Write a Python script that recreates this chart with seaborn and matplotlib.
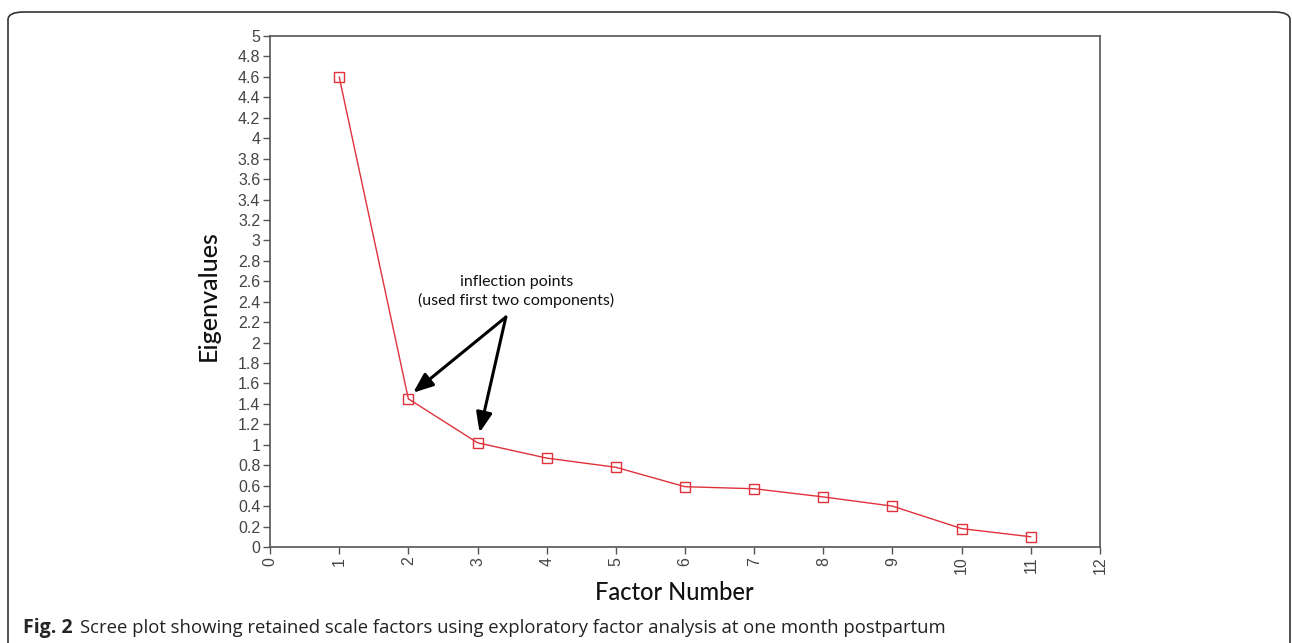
import matplotlib
matplotlib.use("Agg")
import matplotlib.pyplot as plt
import seaborn as sns
import pandas as pd
from matplotlib.patches import FancyBboxPatch

factor_number = [1, 2, 3, 4, 5, 6, 7, 8, 9, 10, 11]
eigenvalues = [4.60, 1.45, 1.02, 0.87, 0.78, 0.59, 0.57, 0.49, 0.40, 0.18, 0.10]
x_ticks = list(range(0, 13))
y_ticks = [round(0.2 * i, 1) for i in range(26)]

sns.set_theme(style="white")
plt.rcParams['font.family'] = ['Liberation Sans', 'DejaVu Sans']

df = pd.DataFrame({"Factor Number": factor_number, "Eigenvalues": eigenvalues})

fig = plt.figure(figsize=(12.92, 6.43), dpi=100)
ax = fig.add_axes([270/1292, 1 - 547/643, (1100-270)/1292, (547-36)/643])

red = "#e0323c"
sns.lineplot(data=df, x="Factor Number", y="Eigenvalues", ax=ax, color=red,
             linewidth=1.0, marker="s", markersize=7, markerfacecolor="none",
             markeredgecolor=red, markeredgewidth=1.0)

ax.set_xlim(0, 12)
ax.set_ylim(0, 5)
ax.set_xticks(x_ticks)
ax.set_xticklabels([str(t) for t in x_ticks], rotation=90)
ax.set_yticks(y_ticks)
ax.set_yticklabels([("%g" % t) for t in y_ticks])
ax.tick_params(axis="both", which="both", direction="out", length=5, width=1,
               color="#555555", labelsize=11.5, labelcolor="#444444", pad=2,
               bottom=True, left=True, top=False, right=False)
for s in ax.spines.values():
    s.set_visible(True)
    s.set_color("#555555")
    s.set_linewidth(1.2)

ax.set_xlabel("")
ax.set_ylabel("")
fig.text(208/1292, 1 - 296/643, "Eigenvalues", rotation=90, fontsize=18,
         fontweight="medium", ha="center", va="center", color="#111111",
         family=['Lato', 'DejaVu Sans'])
fig.text(674/1292, 1 - 592/643, "Factor Number", fontsize=17,
         fontweight="medium", ha="center", va="center", color="#111111",
         family=['Lato', 'DejaVu Sans'])

# annotation
ax.text(3.56, 2.50, "inflection points\n(used first two components)", ha="center",
        va="center", fontsize=11.5, color="#111111", linespacing=1.25,
        family=['Lato', 'DejaVu Sans'])
arrow_kw = dict(arrowstyle="-|>,head_length=1.0,head_width=0.4", color="black",
                lw=2.2, shrinkA=0, shrinkB=0)
ax.annotate("", xy=(2.07, 1.51), xytext=(3.41, 2.25), arrowprops=arrow_kw)
ax.annotate("", xy=(3.03, 1.12), xytext=(3.41, 2.25), arrowprops=arrow_kw)

# caption
fig.text(23/1292, 1 - 633/643, "Fig. 2", fontsize=14, fontweight="bold",
         ha="left", va="baseline", family=['Open Sans', 'DejaVu Sans'])
fig.text(80/1292, 1 - 633/643,
         "Scree plot showing retained scale factors using exploratory factor analysis at one month postpartum",
         fontsize=13.3, ha="left", va="baseline", color="#222222",
         family=['Open Sans', 'DejaVu Sans'])

frame = FancyBboxPatch((8/1292, -0.05), (1290-8)/1292, 1 - 12/643 + 0.05,
                       boxstyle="round,pad=0,rounding_size=0.012",
                       transform=fig.transFigure, fill=False, edgecolor="#333333",
                       linewidth=1.2, clip_on=False)
fig.patches.append(frame)

fig.savefig("out.png", dpi=100)
